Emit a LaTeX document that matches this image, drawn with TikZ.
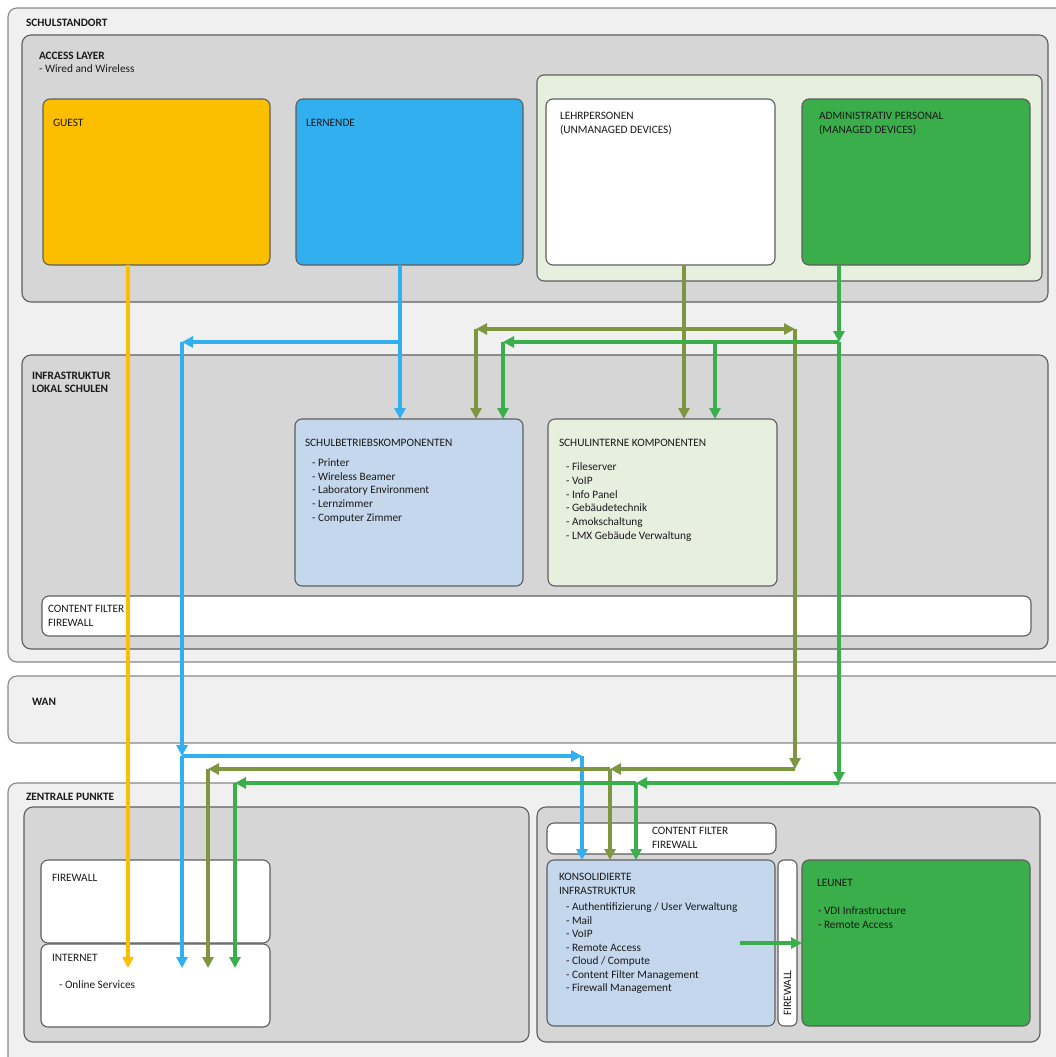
\documentclass[tikz,border=0pt]{standalone}
\usepackage{fontspec}
\setmainfont{Carlito}
\usetikzlibrary{arrows.meta}

\definecolor{paleout}{HTML}{F0F0F0}
\definecolor{layer}{HTML}{D6D6D6}
\definecolor{palegreen}{HTML}{E7EFDF}
\definecolor{paleblue}{HTML}{C5D7EC}
\definecolor{cyellow}{HTML}{FBBF00}
\definecolor{cblue}{HTML}{31AFEF}
\definecolor{cgreen}{HTML}{39AE4B}
\definecolor{colive}{HTML}{7E963F}
\definecolor{edgeout}{HTML}{888888}
\definecolor{edgein}{HTML}{5E5E5E}

\tikzset{
  panel/.style={draw=edgein, line width=1.1pt, rounded corners=7pt,
    anchor=north west, inner sep=0pt, outer sep=0pt},
  zone/.style={panel, draw=edgeout, fill=paleout, rounded corners=9pt},
  tier/.style={panel, fill=layer, rounded corners=9pt},
  lbl/.style={anchor=north west, inner sep=0pt, outer sep=0pt, align=left,
    font=\fontsize{11.3}{13.7}\selectfont, text=black!90},
  head/.style={lbl, font=\fontsize{11.3}{13.4}\selectfont\bfseries},
  tip/.tip={Triangle[length=11pt,width=11pt]},
  flow/.style={line width=3.2pt, line cap=butt, -tip},
}
% a box given by its corners (x1,y1) and (x2,y2), in pixels, y downwards
\newcommand{\zbox}[6]{\node[#1, minimum width={#5-#3}, minimum height={#6-#4}] (#2) at (#3,#4) {};}

\begin{document}
\begin{tikzpicture}[x=1pt,y=-1pt]
\useasboundingbox (0,0) rectangle (1056,1057);
\clip (0,0) rectangle (1056,1057);
\fill[white] (0,0) rectangle (1056,1057);

% ---------------- school site ----------------
\zbox{zone}{schul}{8}{8}{1075}{662}
\node[head] (tschul) at (26,19.1) {SCHULSTANDORT};

\zbox{tier}{access}{22}{35}{1048}{302}
\node[head] (taccess) at (39,52.1) {ACCESS LAYER};
\node[lbl] (taccess2) at (39,65) {- Wired and Wireless};

\zbox{panel,fill=palegreen}{staff}{537}{75}{1042}{281}
\zbox{panel,fill=cyellow}{guest}{43}{99}{270}{265}
\zbox{panel,fill=cblue}{lern}{296}{99}{523}{265}
\zbox{panel,fill=white}{lehr}{546}{99}{775}{265}
\zbox{panel,fill=cgreen}{admin}{802}{99}{1030}{265}
\node[lbl] (tguest) at (53,119.1) {GUEST};
\node[lbl] (tlern) at (306,119.1) {LERNENDE};
\node[lbl] (tlehr) at (560,112.1) {LEHRPERSONEN\\(UNMANAGED DEVICES)};
\node[lbl] (tadmin) at (819,112.1) {ADMINISTRATIV PERSONAL\\(MANAGED DEVICES)};

\zbox{tier}{infra}{22}{355}{1048}{649}
\node[head] (tinfra) at (32,372.1) {INFRASTRUKTUR\\LOKAL SCHULEN};
\zbox{panel,fill=paleblue}{sbk}{295}{419}{523}{586}
\zbox{panel,fill=palegreen}{sik}{548}{419}{777}{586}
\node[lbl] (tsbk) at (305,439.1) {SCHULBETRIEBSKOMPONENTEN};
\node[lbl] (tsbk2) at (312,458.8) {- Printer\\- Wireless Beamer\\- Laboratory Environment\\- Lernzimmer\\- Computer Zimmer};
\node[lbl] (tsik) at (559,439.1) {SCHULINTERNE KOMPONENTEN};
\node[lbl] (tsik2) at (566,462.8) {- Fileserver\\- VoIP\\- Info Panel\\- Gebäudetechnik\\- Amokschaltung\\- LMX Gebäude Verwaltung};
\zbox{panel,fill=white}{cfbar}{42}{596}{1031}{636}
\node[lbl] (tcfbar) at (48,605.1) {CONTENT FILTER\\FIREWALL};

% ---------------- wide area network ----------------
\zbox{zone}{wan}{8}{676}{1075}{743}
\node[head] (twan) at (32,698.1) {WAN};

% ---------------- central services ----------------
\zbox{zone}{zent}{8}{783}{1075}{1075}
\node[head] (tzent) at (26,793.1) {ZENTRALE PUNKTE};
\zbox{tier}{zl}{24}{807}{529}{1042}
\zbox{tier}{zr}{537}{807}{1040}{1042}
\zbox{panel,fill=white}{fw}{41}{860}{270}{943}
\zbox{panel,fill=white}{inet}{41}{944}{270}{1027}
\node[lbl] (tfw) at (52,874.1) {FIREWALL};
\node[lbl] (tinet) at (52,954.1) {INTERNET};
\node[lbl] (tinet2) at (59,980.8) {- Online Services};

\zbox{panel,fill=white}{cf2}{547}{823}{776}{854}
\node[lbl] (tcf2) at (652,827.1) {CONTENT FILTER\\FIREWALL};
\zbox{panel,fill=paleblue}{kons}{547}{860}{775}{1026}
\zbox{panel,fill=white,rounded corners=6pt}{fwv}{778}{860}{797}{1026}
\zbox{panel,fill=cgreen}{leunet}{802}{860}{1030}{1026}
\node[lbl] (tkons) at (559,873.1) {KONSOLIDIERTE\\INFRASTRUKTUR};
\node[lbl, font=\fontsize{11.3}{13.5}\selectfont] (tkons2) at (566,902.8) {- Authentifizierung / User Verwaltung\\- Mail\\- VoIP\\- Remote Access\\- Cloud / Compute\\- Content Filter Management\\- Firewall Management};
\node[lbl, anchor=center, rotate=90] (tfwv) at (787.5,993) {FIREWALL};
\node[lbl] (tleunet) at (817,879.1) {LEUNET};
\node[lbl] (tleunet2) at (818,906.8) {- VDI Infrastructure\\- Remote Access};

% ---------------- junctions of the connectors ----------------
\coordinate (by) at (400,342);   % blue split below LERNENDE
\coordinate (bl) at (182,342);
\coordinate (bw) at (182,756);
\coordinate (br) at (582,756);
\coordinate (ol) at (476,329);   % olive run across the local tier
\coordinate (oc) at (684,329);
\coordinate (or) at (795,329);
\coordinate (ow) at (795,769);
\coordinate (om) at (610,769);
\coordinate (oe) at (208,769);
\coordinate (gr) at (839,342);   % green run from the admin staff
\coordinate (gm) at (715,342);
\coordinate (gl) at (503,342);
\coordinate (gw) at (839,783);
\coordinate (gk) at (636,783);
\coordinate (ge) at (235,783);
\coordinate (yx) at (128,0);
\coordinate (tipy) at (0,968);
\coordinate (ka) at (740,943);

% ---------------- connectors ----------------
% guests straight to the internet
\draw[flow, cyellow] (guest.south -| yx) -- (tipy -| yx);

% students
\draw[flow, cblue] (lern.south -| by) -- (sbk.north -| by);
\draw[flow, cblue] (by) -- (bl);
\draw[flow, cblue] (bl) -- (bw);
\draw[flow, cblue] (bw) -- (tipy -| bw);
\draw[flow, cblue] (bw) -- (br);
\draw[flow, cblue] (br) -- (kons.north -| br);

% teachers
\draw[flow, colive] (lehr.south -| oc) -- (sik.north -| oc);
\draw[flow, colive, tip-tip] (ol) -- (or);
\draw[flow, colive] (ol) -- (sbk.north -| ol);
\draw[flow, colive] (or) -- (ow);
\draw[flow, colive] (ow) -- (om);
\draw[flow, colive] (om) -- (oe);
\draw[flow, colive] (oe) -- (tipy -| oe);
\draw[flow, colive] (om) -- (kons.north -| om);

% administrative staff
\draw[flow, cgreen] (admin.south -| gr) -- (gr);
\draw[flow, cgreen] (gr) -- (gl);
\draw[flow, cgreen] (gl) -- (sbk.north -| gl);
\draw[flow, cgreen] (gm) -- (sik.north -| gm);
\draw[flow, cgreen] (gr) -- (gw);
\draw[flow, cgreen] (gw) -- (gk);
\draw[flow, cgreen] (gk) -- (ge);
\draw[flow, cgreen] (ge) -- (tipy -| ge);
\draw[flow, cgreen] (gk) -- (kons.north -| gk);
\draw[flow, cgreen] (ka) -- (leunet.west |- ka);
\end{tikzpicture}
\end{document}
